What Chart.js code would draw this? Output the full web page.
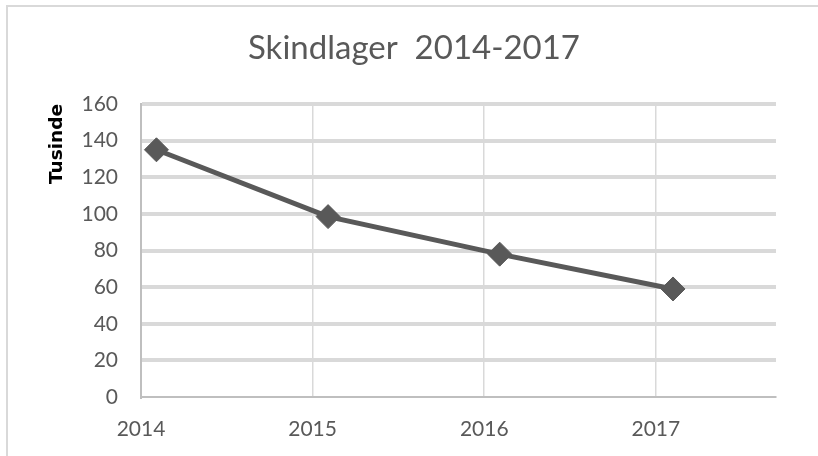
<!DOCTYPE html>
<html>
<head>
<meta charset="utf-8">
<script src="https://cdn.jsdelivr.net/npm/chart.js@4/dist/chart.umd.min.js"></script>
<style>
  html, body { margin: 0; padding: 0; background: #ffffff; overflow: hidden; }
  #frame { position: absolute; left: 6px; top: 5px; width: 900px; height: 600px;
           border-left: 2px solid #d9d9d9; border-top: 2px solid #d9d9d9; }
  #wrap { position: absolute; left: 0; top: 0; width: 818px; height: 456px; }
</style>
</head>
<body>
<div id="frame"></div>
<div id="wrap"><canvas id="c" width="818" height="456"></canvas></div>
<script>
const chartTitle = "Skindlager  2014-2017";
const yAxisTitle = "Tusinde";
const years = [2014.09, 2015.09, 2016.09, 2017.1];
const stock = [135, 98.5, 78, 59];
const xTickValues = [2014, 2015, 2016, 2017];

const points = years.map((x, i) => ({ x: x, y: stock[i] }));

new Chart(document.getElementById('c'), {
  type: 'scatter',
  data: {
    datasets: [{
      data: points,
      showLine: true,
      borderColor: '#595959',
      backgroundColor: '#595959',
      borderWidth: 5,
      pointStyle: 'rectRot',
      pointRadius: 12,
      pointHoverRadius: 12,
      pointBorderWidth: 1,
      pointBorderColor: '#595959',
      pointBackgroundColor: '#595959'
    }]
  },
  options: {
    responsive: false,
    animation: false,
    layout: { padding: { left: 10, right: 0, top: 0, bottom: 0 } },
    plugins: {
      legend: { display: false },
      tooltip: { enabled: false },
      title: {
        display: true,
        text: chartTitle,
        color: '#595959',
        font: { family: 'Lato', size: 33, weight: 'normal', lineHeight: 1.2 },
        padding: { top: 29, bottom: 35.4 }
      }
    },
    scales: {
      x: {
        type: 'linear',
        min: 2014,
        max: 2017.7,
        afterBuildTicks: (scale) => { scale.ticks = xTickValues.map(v => ({ value: v })); },
        afterFit: (scale) => { scale.height = 59; },
        ticks: {
          color: '#595959',
          font: { family: 'Lato', size: 21 },
          padding: 20,
          maxRotation: 0,
          callback: (v) => String(v)
        },
        grid: {
          drawTicks: false,
          color: (ctx) => (ctx.tick && ctx.tick.value === 2014) ? 'rgba(0,0,0,0)' : '#d9d9d9',
          lineWidth: 1.5
        },
        border: { display: true, color: '#bfbfbf', width: 2 }
      },
      y: {
        min: 0,
        max: 160,
        ticks: {
          stepSize: 20,
          color: '#595959',
          font: { family: 'Lato', size: 21 },
          padding: 23
        },
        afterFit: (scale) => { scale.width = 131; },
        grid: {
          drawTicks: false,
          color: (ctx) => (ctx.tick && ctx.tick.value === 0) ? 'rgba(0,0,0,0)' : '#d9d9d9',
          lineWidth: 4
        },
        border: { display: true, color: '#bfbfbf', width: 2 },
        title: {
          display: true,
          text: yAxisTitle,
          align: 'end',
          color: '#000000',
          font: { family: 'DejaVu Sans', size: 18.5, weight: 'bold', lineHeight: 1.2 },
          padding: { top: 36, bottom: 0 }
        }
      },
      yRight: {
        position: 'right',
        display: true,
        min: 0,
        max: 160,
        grid: { display: false, drawTicks: false },
        border: { display: false },
        ticks: { display: false },
        afterFit: (scale) => { scale.width = 42; }
      }
    }
  }
});
</script>
</body>
</html>
